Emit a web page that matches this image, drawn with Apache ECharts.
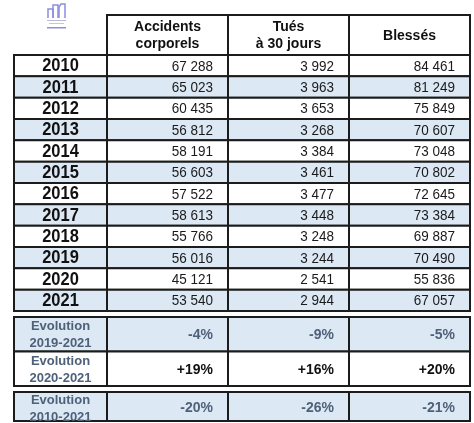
<!DOCTYPE html>
<html><head><meta charset="utf-8">
<script src="https://cdn.jsdelivr.net/npm/echarts@6/dist/echarts.min.js"></script>
<style>html,body{margin:0;padding:0;background:#fff}#c{width:474px;height:423px}</style>
</head><body><div id="c"></div>
<script>
// ---- data ----
const years = ['2010','2011','2012','2013','2014','2015','2016','2017','2018','2019','2020','2021'];
const columns = ['Accidents\ncorporels', 'Tués\nà 30 jours', 'Blessés'];
const accidents = [67288, 65023, 60435, 56812, 58191, 56603, 57522, 58613, 55766, 56016, 45121, 53540];
const tues = [3992, 3963, 3653, 3268, 3384, 3461, 3477, 3448, 3248, 3244, 2541, 2944];
const blesses = [84461, 81249, 75849, 70607, 73048, 70802, 72645, 73384, 69887, 70490, 55836, 67057];
const evolLabelsA = ['Evolution\n2019-2021', 'Evolution\n2020-2021'];
const evolLabelsB = ['Evolution\n2010-2021'];
const evolAccidents = [-4, 19, -20];
const evolTues = [-9, 16, -26];
const evolBlesses = [-5, 20, -21];

// ---- styles ----
const FONT = '"Liberation Sans", Arial, sans-serif';
const LINE = '#1c1c1c';
const BLUE = '#dce8f4';
const SLATE = '#4f6179';

function fmtNum(v){ return String(v).replace(/\B(?=(\d{3})+(?!\d))/g, ' '); }
function fmtPct(v){ return (v > 0 ? '+' : '') + v + '%'; }

function cellSeries(gridIndex, data, cfg){
  return {
    type: 'custom', xAxisIndex: gridIndex, yAxisIndex: gridIndex,
    data: data.map(d => [d[0], d[1]]),
    renderItem: function(params, api){
      const d = data[params.dataIndex];
      const c = api.coord([api.value(0), api.value(1)]);
      const s = api.size([1, 1]);
      const w = s[0], h = s[1];
      const st = cfg(d);
      const tx = st.align === 'right' ? c[0] + w/2 - 15 : c[0];
      return {
        type: 'group',
        children: [
          { type: 'rect', shape: { x: c[0]-w/2, y: c[1]-h/2, width: w, height: h },
            style: { fill: st.fill, stroke: LINE, lineWidth: 2 } },
          { type: 'text', x: tx, y: c[1] + (st.dy || 0), scaleY: st.sy || 1,
            style: { text: st.text, align: st.align, verticalAlign: 'middle',
              font: st.font, fill: st.color, lineHeight: st.lineHeight || undefined } }
        ]
      };
    }
  };
}

const grids = [
  { left: 107, top: 15, width: 363, height: 40 },  // 0 header
  { left: 14, top: 55, width: 93, height: 256 },   // 1 years
  { left: 107, top: 55, width: 363, height: 256 }, // 2 values
  { left: 14, top: 317, width: 93, height: 69 },   // 3 evol labels A
  { left: 107, top: 317, width: 363, height: 69 }, // 4 evol values A
  { left: 14, top: 392, width: 93, height: 29 },   // 5 evol label B
  { left: 107, top: 392, width: 363, height: 29 }  // 6 evol values B
];
const hidden = { show: false };
function xcat(i, n){ return { type: 'category', gridIndex: i, data: n, axisLine: hidden, axisTick: hidden, axisLabel: hidden, splitLine: hidden }; }
function ycat(i, n){ return { type: 'category', gridIndex: i, data: n, inverse: true, axisLine: hidden, axisTick: hidden, axisLabel: hidden, splitLine: hidden }; }

const xAxes = [xcat(0, columns), xcat(1, ['']), xcat(2, columns), xcat(3, ['']), xcat(4, columns), xcat(5, ['']), xcat(6, columns)];
const yAxes = [ycat(0, ['h']), ycat(1, years), ycat(2, years), ycat(3, evolLabelsA), ycat(4, evolLabelsA), ycat(5, evolLabelsB), ycat(6, evolLabelsB)];

const headerData = columns.map((c, j) => [j, 0, c]);
const yearData = years.map((y, i) => [0, i, y]);
const valueData = [];
years.forEach((y, i) => {
  valueData.push([0, i, accidents[i]]);
  valueData.push([1, i, tues[i]]);
  valueData.push([2, i, blesses[i]]);
});
const evolLabelDataA = evolLabelsA.map((l, i) => [0, i, l]);
const evolValDataA = [];
[0, 1].forEach(i => {
  evolValDataA.push([0, i, evolAccidents[i]]);
  evolValDataA.push([1, i, evolTues[i]]);
  evolValDataA.push([2, i, evolBlesses[i]]);
});
const evolLabelDataB = evolLabelsB.map((l, i) => [0, i, l]);
const evolValDataB = [[0, 0, evolAccidents[2]], [1, 0, evolTues[2]], [2, 0, evolBlesses[2]]];

const series = [
  cellSeries(0, headerData, d => ({ text: d[2], align: 'center', font: 'bold 14px ' + FONT, color: '#111', fill: '#fff', lineHeight: 17, dy: 1 })),
  cellSeries(1, yearData, d => ({ text: d[2], align: 'center', font: 'bold 16.5px ' + FONT, color: '#111', fill: d[1] % 2 ? BLUE : '#fff', dy: 1, sy: 1.06 })),
  cellSeries(2, valueData, d => ({ text: fmtNum(d[2]), align: 'right', font: '13.5px ' + FONT, color: '#1a1a1a', fill: d[1] % 2 ? BLUE : '#fff', dy: 1, sy: 1.12 })),
  cellSeries(3, evolLabelDataA, d => ({ text: d[2], align: 'center', font: 'bold 13px ' + FONT, color: SLATE, fill: d[1] === 0 ? BLUE : '#fff', lineHeight: 17, dy: 1 })),
  cellSeries(4, evolValDataA, d => ({ text: fmtPct(d[2]), align: 'right', font: 'bold 14px ' + FONT, color: d[1] === 0 ? SLATE : '#111', fill: d[1] === 0 ? BLUE : '#fff', dy: 1, sy: 1.08 })),
  cellSeries(5, evolLabelDataB, d => ({ text: d[2], align: 'center', font: 'bold 13px ' + FONT, color: SLATE, fill: BLUE, lineHeight: 17, dy: 2 })),
  cellSeries(6, evolValDataB, d => ({ text: fmtPct(d[2]), align: 'right', font: 'bold 14px ' + FONT, color: SLATE, fill: BLUE, dy: 1, sy: 1.08 }))
];

const LOGO = '#8c8fe0';
const chart = echarts.init(document.getElementById('c'), null, { renderer: 'canvas' });
chart.setOption({
  animation: false,
  backgroundColor: '#fff',
  grid: grids.map(g => Object.assign({ show: false, containLabel: false }, g)),
  xAxis: xAxes,
  yAxis: yAxes,
  series: series,
  graphic: [
    { type: 'polyline', shape: { points: [[48,18],[48,9],[53,9],[53,18]] }, style: { stroke: LOGO, fill: null, lineWidth: 1.5 } },
    { type: 'polyline', shape: { points: [[53,18],[53,5],[58,5],[58,18]] }, style: { stroke: LOGO, fill: null, lineWidth: 1.5 } },
    { type: 'polyline', shape: { points: [[59,18],[59,7],[61,4],[65,4],[65,18]] }, style: { stroke: LOGO, fill: null, lineWidth: 1.5 } },
    { type: 'rect', shape: { x: 47, y: 20, width: 19, height: 1 }, style: { fill: '#b9bbd8' } },
    { type: 'rect', shape: { x: 49, y: 23, width: 15, height: 1 }, style: { fill: '#c3c5dd' } },
    { type: 'rect', shape: { x: 47, y: 27, width: 19, height: 1.5 }, style: { fill: LOGO } }
  ]
});
</script></body></html>
